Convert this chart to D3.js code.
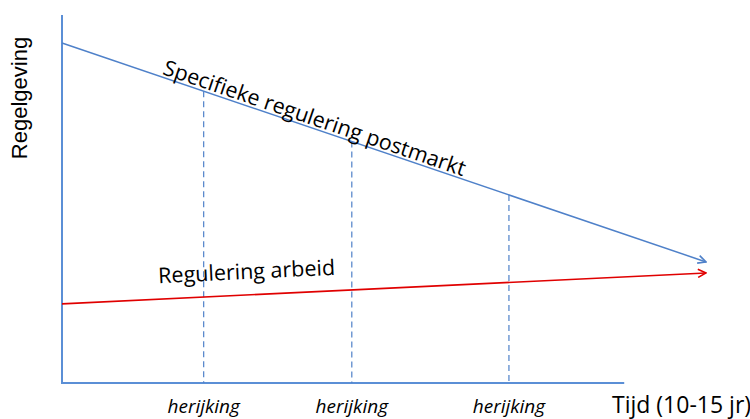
<!DOCTYPE html>
<html><head><meta charset="utf-8">
<script src="https://cdn.jsdelivr.net/npm/d3@7"></script>
<style>body{margin:0;background:#fff}svg{display:block}</style>
</head><body>
<script>
// data (abstract units: time 0-100, regulation 0-100)
const axisLabels = {y: "Regelgeving", x: "Tijd (10-15 jr)"};
const seriesNames = ["Specifieke regulering postmarkt", "Regulering arbeid"];
const specifiek = [{t: 0, v: 92.4}, {t: 100, v: 32.9}];
const arbeid = [{t: 0, v: 21.5}, {t: 100, v: 29.9}];
const herijkingT = [22, 45, 69.4];
const herijkingLabel = "herijking";
const axisEndT = 87.3;

const W = 750, H = 419;
const x = d3.scaleLinear().domain([0, 100]).range([62, 706]);
const y = d3.scaleLinear().domain([0, 100]).range([383, 15]);

const svg = d3.select("body").append("svg").attr("width", W).attr("height", H);
const defs = svg.append("defs");
function marker(id, color) {
  defs.append("marker").attr("id", id).attr("viewBox", "0 0 10 10")
    .attr("refX", 9).attr("refY", 5).attr("markerWidth", 10).attr("markerHeight", 10)
    .attr("markerUnits", "userSpaceOnUse").attr("orient", "auto")
    .append("path").attr("d", "M1,1 L9,5 L1,9").attr("fill", "none")
    .attr("stroke", color).attr("stroke-width", 1.6);
}
marker("arrBlue", "#4f81c9");
marker("arrRed", "#e00000");

const font = "'Open Sans', sans-serif";
const axisColor = "#5b8fd6";

// axes
svg.append("line").attr("x1", x(0)).attr("x2", x(0)).attr("y1", y(100)).attr("y2", y(0))
  .attr("stroke", axisColor).attr("stroke-width", 2);
svg.append("line").attr("x1", x(0) - 1).attr("x2", x(axisEndT)).attr("y1", y(0)).attr("y2", y(0))
  .attr("stroke", axisColor).attr("stroke-width", 2);

const blueLine = d3.scaleLinear().domain(specifiek.map(d => d.t)).range(specifiek.map(d => d.v));

// dashed lines
svg.selectAll(".dash").data(herijkingT).enter().append("line")
  .attr("x1", d => x(d)).attr("x2", d => x(d))
  .attr("y1", d => y(blueLine(d))).attr("y2", y(0))
  .attr("stroke", "#4f81c9").attr("stroke-width", 1.2).attr("stroke-dasharray", "6,4");

const line = d3.line().x(d => x(d.t)).y(d => y(d.v));
svg.append("path").datum(specifiek).attr("d", line).attr("fill", "none")
  .attr("stroke", "#4f81c9").attr("stroke-width", 1.5).attr("marker-end", "url(#arrBlue)");
svg.append("path").datum(arbeid).attr("d", line).attr("fill", "none")
  .attr("stroke", "#e00000").attr("stroke-width", 1.6).attr("marker-end", "url(#arrRed)");

// series labels along lines
function angle(s) {
  const a = s[0], b = s[1];
  return Math.atan2(y(b.v) - y(a.v), x(b.t) - x(a.t)) * 180 / Math.PI;
}
{
  const t = 15.5, px = x(t), py = y(blueLine(t)) - 3;
  svg.append("text").attr("transform", `translate(${px},${py}) rotate(${angle(specifiek)})`)
    .attr("font-family", font).attr("font-size", 21.5).attr("fill", "#000").text(seriesNames[0]);
}
{
  const red = d3.scaleLinear().domain(arbeid.map(d => d.t)).range(arbeid.map(d => d.v));
  const t = 15.0, px = x(t), py = y(red(t)) - 16;
  svg.append("text").attr("transform", `translate(${px},${py}) rotate(${angle(arbeid)})`)
    .attr("font-family", font).attr("font-size", 21.5).attr("fill", "#000").text(seriesNames[1]);
}

// herijking labels
svg.selectAll(".her").data(herijkingT).enter().append("text")
  .attr("x", d => x(d)).attr("y", 413).attr("text-anchor", "middle")
  .attr("font-family", font).attr("font-style", "italic").attr("font-size", 19)
  .attr("fill", "#000").text(herijkingLabel);

svg.append("text").attr("x", 612).attr("y", 413).attr("font-family", font)
  .attr("font-size", 23).attr("fill", "#000").text(axisLabels.x);

svg.append("text").attr("transform", "translate(27,98) rotate(-90)").attr("text-anchor", "middle")
  .attr("font-family", "'Liberation Sans', Arial, sans-serif").attr("font-size", 22)
  .attr("fill", "#000").text(axisLabels.y);
</script>
</body></html>
